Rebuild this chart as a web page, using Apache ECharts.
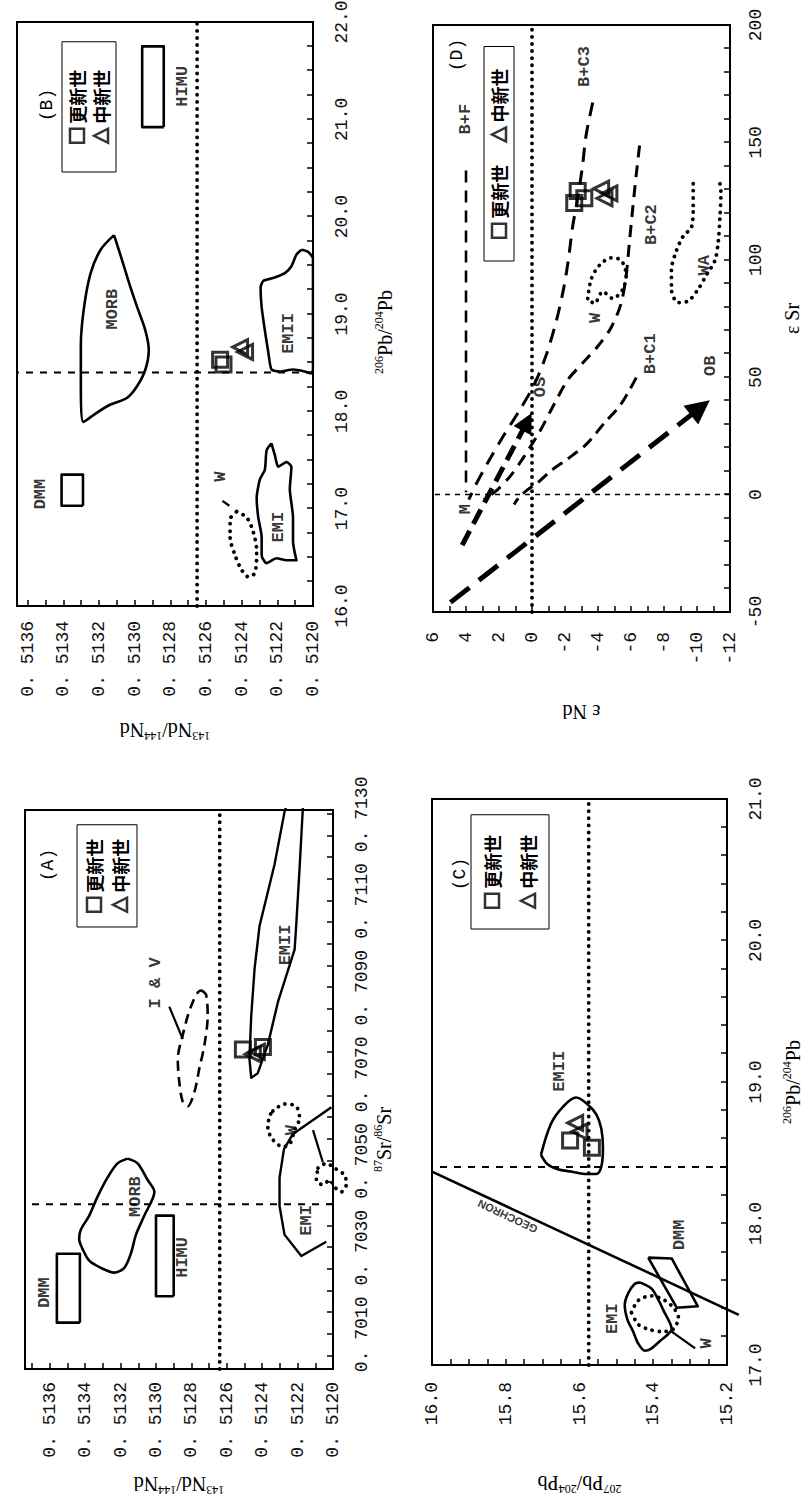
<!DOCTYPE html>
<html><head><meta charset="utf-8">
<script src="https://cdn.jsdelivr.net/npm/echarts@6/dist/echarts.min.js"></script>
<style>
html,body{margin:0;padding:0;background:#fff;overflow:hidden;width:809px;height:1500px;}
#wrap{position:absolute;left:0;top:0;width:1500px;height:809px;transform-origin:0 0;transform:translate(0,1500px) rotate(-90deg);}
#chart{width:1500px;height:809px;}
</style></head><body><div id="wrap"><div id="chart"></div></div>
<script>
// ---------- Panel A : 87Sr/86Sr (x) vs 143Nd/144Nd (y) ----------
const A_xLabels = [0.7010,0.7030,0.7050,0.7070,0.7090,0.7110,0.7130];
const A_yLabels = [0.5120,0.5122,0.5124,0.5126,0.5128,0.5130,0.5132,0.5134,0.5136];
const A_DMM = [0.70127,0.70286,0.51343,0.51356];
const A_HIMU = [0.70188,0.70374,0.51290,0.51300];
const A_MORB = [[0.705055,0.513160],[0.704945,0.513104],[0.704562,0.513047],[0.704288,0.513009],[0.703740,0.513066],[0.703301,0.513113],[0.702863,0.513142],[0.702534,0.513179],[0.702425,0.513236],[0.702534,0.513311],[0.702699,0.513377],[0.702973,0.513415],[0.703192,0.513434],[0.703411,0.513425],[0.703740,0.513377],[0.704178,0.513330],[0.704616,0.513274],[0.704945,0.513217]];
const A_IV = [[0.708945,0.512745],[0.708836,0.512717],[0.708342,0.512708],[0.707685,0.512726],[0.707137,0.512755],[0.706589,0.512783],[0.706260,0.512821],[0.706370,0.512849],[0.706808,0.512868],[0.707356,0.512877],[0.707904,0.512849],[0.708342,0.512821],[0.708671,0.512792],[0.708890,0.512764]];
const A_IVlead = [[0.707816,0.512849],[0.708562,0.512925]];
const A_EMII = [[0.713438,0.512245],[0.713055,0.512274],[0.711849,0.512330],[0.710425,0.512415],[0.709438,0.512443],[0.708342,0.512462],[0.707356,0.512472],[0.706918,0.512462],[0.707027,0.512425],[0.707466,0.512387],[0.707685,0.512368],[0.708671,0.512311],[0.709877,0.512217],[0.710425,0.512208],[0.711740,0.512189],[0.713164,0.512170],[0.713438,0.512164]];
const A_EMI = [[0.706238,0.512009],[0.705625,0.512226],[0.705274,0.512277],[0.704616,0.512302],[0.703959,0.512302],[0.703301,0.512274],[0.702808,0.512179],[0.703137,0.512038]];
const A_EMItick = [[0.705712,0.512113],[0.704967,0.512057]];
const A_W1 = [[0.706151,0.512340],[0.706315,0.512274],[0.706260,0.512208],[0.705986,0.512189],[0.705712,0.512217],[0.705384,0.512245],[0.705329,0.512283],[0.705493,0.512340],[0.705767,0.512368],[0.706041,0.512358]];
const A_W2 = [[0.704836,0.512085],[0.704945,0.512038],[0.704836,0.511991],[0.704671,0.511934],[0.704452,0.511925],[0.704288,0.511953],[0.704397,0.511991],[0.704562,0.512019],[0.704452,0.512057],[0.704562,0.512094]];
const A_pleist = [[0.707575,0.512509],[0.707630,0.512396]];
const A_mioc = [[0.707466,0.512453],[0.707520,0.512430]];
const A_ref = [0.7040, 0.51264];
const A_text = [['DMM',0.701964,0.513628],['HIMU',0.702775,0.512849],['MORB',0.704178,0.513113],['I & V',0.709110,0.513000],['EMII',0.709986,0.512270],['W',0.705712,0.512232],['EMI',0.703630,0.512147]];

// ---------- Panel B : 206Pb/204Pb (x) vs 143Nd/144Nd (y) ----------
const B_xLabels = [16,17,18,19,20,21,22];
const B_yLabels = [0.5120,0.5122,0.5124,0.5126,0.5128,0.5130,0.5132,0.5134,0.5136];
const B_DMM = [17.03,17.35,0.51329,0.51341];
const B_HIMU = [20.92,21.75,0.512837,0.512958];
const B_MORB = [[19.81,0.513116],[19.66,0.513191],[19.42,0.513247],[19.07,0.513284],[18.68,0.513302],[18.29,0.513302],[17.89,0.513288],[17.99,0.513209],[18.07,0.513135],[18.14,0.513042],[18.26,0.512986],[18.43,0.512940],[18.63,0.512921],[18.83,0.512940],[19.07,0.512986],[19.27,0.513023],[19.49,0.513060],[19.71,0.513098]];
const B_EMII = [[19.66,0.512065],[19.61,0.512093],[19.49,0.512121],[19.42,0.512158],[19.37,0.512223],[19.34,0.512279],[19.27,0.512294],[19.07,0.512288],[18.83,0.512270],[18.61,0.512251],[18.43,0.512233],[18.41,0.512186],[18.43,0.512112],[18.41,0.512047],[18.39,0.512009],[18.43,0.512000],[19.57,0.512000],[19.64,0.512028]];
const B_EMI = [[17.67,0.512233],[17.55,0.512214],[17.43,0.512195],[17.48,0.512149],[17.43,0.512121],[17.20,0.512130],[16.91,0.512112],[16.66,0.512112],[16.47,0.512093],[16.47,0.512149],[16.49,0.512205],[16.44,0.512260],[16.52,0.512288],[16.71,0.512288],[16.91,0.512307],[17.11,0.512316],[17.30,0.512298],[17.40,0.512270],[17.60,0.512260]];
const B_W = [[16.97,0.512428],[16.91,0.512372],[16.76,0.512335],[16.57,0.512316],[16.34,0.512326],[16.30,0.512363],[16.37,0.512400],[16.52,0.512437],[16.71,0.512465],[16.89,0.512465]];
const B_Wlead = [[17.08,0.512508],[17.03,0.512469]];
const B_pleist = [[18.53,0.512521],[18.48,0.512502]];
const B_mioc = [[18.66,0.512409],[18.61,0.512381]];
const B_ref = [18.4, 0.51265];
const B_text = [['DMM',17.15,0.513526],['HIMU',21.34,0.512730],['MORB',19.05,0.513126],['EMII',18.80,0.512140],['EMI',16.81,0.512195],['W',17.33,0.512517]];

// ---------- Panel C : 206Pb/204Pb (x) vs 207Pb/204Pb (y) ----------
const C_xLabels = [17,18,19,20,21];
const C_yLabels = [15.2,15.4,15.6,15.8,16.0];
const C_geochron = [[18.367,16.0],[17.354,15.168]];
const C_EMII = [[18.485,15.7045],[18.705,15.6773],[18.823,15.6455],[18.890,15.6091],[18.840,15.5773],[18.772,15.5545],[18.671,15.5409],[18.536,15.5364],[18.401,15.5409],[18.350,15.5545],[18.350,15.5864],[18.367,15.6227],[18.384,15.6591],[18.418,15.6864]];
const C_DMM = [[17.759,15.4136],[17.753,15.3500],[17.415,15.2791],[17.405,15.3364]];
const C_EMI = [[17.584,15.4364],[17.540,15.4045],[17.462,15.3864],[17.388,15.3727],[17.253,15.3500],[17.219,15.3591],[17.169,15.3818],[17.118,15.4045],[17.101,15.4227],[17.152,15.4409],[17.236,15.4545],[17.321,15.4700],[17.422,15.4773],[17.506,15.4682],[17.574,15.4500]];
const C_W = [[17.371,15.4591],[17.456,15.4409],[17.489,15.4045],[17.456,15.3682],[17.405,15.3455],[17.338,15.3318],[17.253,15.3455],[17.236,15.3773],[17.253,15.4136],[17.287,15.4409]];
const C_Wlead = [[17.236,15.35],[17.118,15.2864]];
const C_pleist = [[18.586,15.6255],[18.536,15.5664]];
const C_mioc = [[18.711,15.6118],[18.650,15.6000]];
const C_ref = [18.4, 15.575];
const C_text = [['EMII',19.076,15.6545],['DMM',17.92,15.33],['EMI',17.327,15.5118],['W',17.152,15.2545]];
const C_geoText = ['GEOCHRON',18.05,15.795];

// ---------- Panel D : εSr (x) vs εNd (y) ----------
const D_xLabels = [-50,0,50,100,150,200];
const D_yLabels = [-12,-10,-8,-6,-4,-2,0,2,4,6];
const D_BF = [[138,4.0],[1,4.0]];
const D_BC3 = [[167.0,-3.68],[152.7,-3.27],[140.5,-3.07],[126.2,-2.77],[114.0,-2.46],[99.8,-2.20],[87.5,-1.91],[73.3,-1.45],[59.0,-0.84],[46.8,-0.13],[35.6,0.78],[25.4,1.70],[13.2,2.71],[4.0,3.42],[-2.1,3.83]];
const D_BC2 = [[148.7,-6.52],[136.4,-6.32],[122.2,-6.11],[107.9,-5.91],[93.6,-5.71],[81.4,-5.40],[71.2,-4.80],[63.1,-3.98],[56.0,-3.07],[48.8,-2.16],[38.6,-1.35],[26.4,-0.43],[16.2,0.48],[8.1,1.29],[2.0,2.10],[-2.1,2.92]];
const D_BC1 = [[49.8,-6.32],[38.6,-5.40],[30.5,-4.39],[21.3,-3.27],[15.2,-2.16],[10.1,-1.14],[5.0,-0.33],[2.0,0.28],[-1.1,0.78],[-4.2,1.09]];
const D_OS = [[-21.5,4.23],[31,0.3]];
const D_OB = [[-45.9,4.94],[37,-10.2]];
const D_W = [[83.5,-3.38],[91.6,-3.58],[97.7,-4.09],[100.8,-4.80],[99.8,-5.40],[93.6,-5.71],[87.5,-5.51],[83.5,-4.90],[86.5,-4.29],[81.4,-3.78]];
const D_WA = [[132.4,-9.77],[122.2,-9.77],[114.0,-9.67],[110.0,-9.16],[103.8,-8.75],[95.7,-8.45],[87.5,-8.45],[81.8,-8.85],[82.4,-9.46],[87.5,-10.07],[93.6,-10.58],[99.8,-11.09],[107.9,-11.29],[118.1,-11.39],[128.3,-11.45],[132.4,-11.39]];
const D_pleist = [[129.3,-2.77],[126.2,-3.17],[124.2,-2.56]];
const D_mioc = [[130.3,-4.19],[126.2,-4.39],[128.3,-4.69]];
const D_ref = [0, 0];
const D_text = [['B+F',159.9,4.03],['B+C3',182.3,-3.21],['B+C2',115.0,-7.27],['B+C1',60.0,-7.17],['OB',54.9,-10.82],['OS',45.8,-0.53],['W',75.3,-3.82],['WA',97.7,-10.48],['M',-6.2,4.03]];

const N_PLEIST = '更新世', N_MIOC = '中新世';

// ---------- helpers ----------
function steps(a, b, s, dec){ const r=[]; const n=Math.round((b-a)/s); for(let i=0;i<=n;i++) r.push(+(a+i*s).toFixed(dec)); return r; }
const series = [];
const BLACK = '#000';
function poly(gi, pts, o){
  o = o || {};
  const d = pts.slice(); if (o.close) d.push(pts[0]);
  series.push({type:'line', xAxisIndex:gi, yAxisIndex:gi, data:d, symbol:'none', showSymbol:false,
    smooth:o.smooth||false, clip:o.clip!==false, silent:true, animation:false, z:3,
    lineStyle:{color:BLACK, width:o.width||2.6, type:o.dash||'solid', cap:o.cap||'butt', join:'round'}});
}
const DOT = {dash:[0.1,7], cap:'round', width:3.8};
function rect(gi, r, w){ poly(gi, [[r[0],r[2]],[r[1],r[2]],[r[1],r[3]],[r[0],r[3]]], {close:true, width:w||2.6}); }
function marks(gi, pts, sym, name){
  series.push({type:'scatter', name, xAxisIndex:gi, yAxisIndex:gi, data:pts, symbol:sym, symbolSize:15,
    itemStyle:{color:'rgba(0,0,0,0)', borderColor:BLACK, borderWidth:3}, z:5, animation:false, silent:true});
}
function texts(gi, arr, fs, extra){
  series.push({type:'scatter', xAxisIndex:gi, yAxisIndex:gi, symbol:'circle', symbolSize:2,
    itemStyle:{color:'rgba(0,0,0,0)', borderWidth:0}, clip:false, silent:true, z:6, animation:false,
    data:arr.map(a=>({name:a[0], value:[a[1],a[2]]})),
    label:Object.assign({show:true, position:'inside', formatter:'{b}', color:BLACK, fontFamily:'Liberation Mono', fontWeight:'bold', fontSize:fs||17}, extra||{})});
}
function refLines(gi, ref, xr, yr, vDash, hDash){
  poly(gi, [[ref[0],yr[0]],[ref[0],yr[1]]], vDash);
  poly(gi, [[xr[0],ref[1]],[xr[1],ref[1]]], hDash);
}

// ranges
const RA = {x:[0.7002,0.7131], y:[0.5120,0.51374]};
const RB = {x:[16,22], y:[0.5120,0.51366]};
const RC = {x:[17,21], y:[15.2,16.0]};
const RD = {x:[-50,200], y:[-12,6]};

// Panel A
refLines(0, A_ref, RA.x, RA.y, {dash:[7,7], width:2}, DOT);
rect(0, A_DMM); rect(0, A_HIMU);
poly(0, A_MORB, {close:true, smooth:0.3});
poly(0, A_IV, {close:true, smooth:0.3, dash:[10,6], width:2.6});
poly(0, A_IVlead, {width:2.2});
poly(0, A_EMII, {clip:false, width:2.4});
poly(0, A_EMI, {clip:false, width:2.4});
poly(0, A_EMItick, {width:2.2});
poly(0, A_W1, Object.assign({close:true, smooth:0.3}, DOT));
poly(0, A_W2, Object.assign({close:true, smooth:0.3, clip:false}, DOT));
marks(0, A_pleist, 'rect', N_PLEIST); marks(0, A_mioc, 'triangle', N_MIOC);
texts(0, A_text);

// Panel B
refLines(1, B_ref, RB.x, RB.y, {dash:[7,7], width:2}, DOT);
rect(1, B_DMM); rect(1, B_HIMU);
poly(1, B_MORB, {close:true, smooth:0.3});
poly(1, B_EMII, {close:true, smooth:0.2});
poly(1, B_EMI, {close:true, smooth:0.2});
poly(1, B_W, Object.assign({close:true, smooth:0.3}, DOT));
poly(1, B_Wlead, {width:2.2});
marks(1, B_pleist, 'rect', N_PLEIST); marks(1, B_mioc, 'triangle', N_MIOC);
texts(1, B_text);

// Panel C
refLines(2, C_ref, RC.x, RC.y, {dash:[7,7], width:2}, DOT);
poly(2, C_geochron, {clip:false, width:2.6});
poly(2, C_EMII, {close:true, smooth:0.35});
poly(2, C_DMM, {close:true});
poly(2, C_EMI, {close:true, smooth:0.3});
poly(2, C_W, Object.assign({close:true, smooth:0.3}, DOT));
poly(2, C_Wlead, {width:2.2});
marks(2, C_pleist, 'rect', N_PLEIST); marks(2, C_mioc, 'triangle', N_MIOC);
texts(2, C_text);
texts(2, [C_geoText], 11, {rotate:65, fontFamily:'Liberation Sans'});

// Panel D
refLines(3, D_ref, RD.x, RD.y, {dash:[5,5], width:1.5}, DOT);
poly(3, D_BF, {dash:[12,8], width:2.6});
poly(3, D_BC3, {dash:[14,9], width:3, smooth:0.3});
poly(3, D_BC2, {dash:[12,8], width:3, smooth:0.3});
poly(3, D_BC1, {dash:[12,7], width:3, smooth:0.3});
poly(3, D_W, Object.assign({close:true, smooth:0.3}, DOT));
poly(3, D_WA, Object.assign({smooth:0.3}, DOT));
[D_OS, D_OB].forEach((seg, i)=>{
  series.push({type:'lines', coordinateSystem:'cartesian2d', xAxisIndex:3, yAxisIndex:3, silent:true, animation:false, z:4,
    data:[{coords:seg}], symbol:['none','triangle'], symbolSize:[1, i===0?20:24],
    lineStyle:{color:BLACK, width:5, type:i===0?[16,8]:[24,12], opacity:1}});
});
marks(3, D_pleist, 'rect', N_PLEIST); marks(3, D_mioc, 'triangle', N_MIOC);
texts(3, D_text);

// ---------- axes ----------
const LABEL_FONT = 'Liberation Mono';
function fmtDec4(v){ return '0. ' + v.toFixed(4).slice(2); }
function fmt1(v){ return v.toFixed(1); }
function fmt0(v){ return String(Math.round(v)); }
function nameStyle(extra){
  return Object.assign({fontFamily:'Liberation Serif', fontSize:20, color:BLACK, lineHeight:24,
    rich:{s:{fontFamily:'Liberation Serif', fontSize:12, verticalAlign:'top', lineHeight:24, color:BLACK}}}, extra||{});
}
function axis(gi, dim, r, labels, ticks, fmt, margin, name, gap, nExtra){
  return {type:'value', gridIndex:gi, min:r[0], max:r[1], position: dim==='x'?'bottom':'left',
    axisLine:{show:true, onZero:false, lineStyle:{color:BLACK, width:2}},
    axisTick:{show:true, inside:true, length:6, customValues:ticks, lineStyle:{color:BLACK, width:1.5}},
    splitLine:{show:false}, minorTick:{show:false},
    axisLabel:{show:true, customValues:labels, formatter:fmt, margin, color:'#111', fontFamily:LABEL_FONT, fontSize:18, showMinLabel:true, showMaxLabel:true},
    name, nameLocation:'middle', nameGap:gap, nameRotate: dim==='y'?90:0, nameTextStyle:nameStyle(nExtra)};
}
const xAxis = [
  axis(0,'x',RA.x, A_xLabels, steps(0.7005,0.7130,0.0005,4), fmtDec4, 20, '{s|87}Sr/{s|86}Sr', 36, {padding:[0,100,0,0]}),
  axis(1,'x',RB.x, B_xLabels, steps(16.25,21.75,0.25,2), fmt1, 20, '{s|206}Pb/{s|204}Pb', 60, {padding:[0,36,0,0]}),
  axis(2,'x',RC.x, C_xLabels, steps(17.2,20.8,0.2,1), fmt1, 20, '{s|206}Pb/{s|204}Pb', 54),
  axis(3,'x',RD.x, D_xLabels, steps(-40,190,10,0), fmt0, 17, 'ε Sr', 50)
];
const yAxis = [
  axis(0,'y',RA.y, A_yLabels, steps(0.5121,0.5137,0.0001,4), fmtDec4, 13, '{s|143}Nd/{s|144}Nd', 103),
  axis(1,'y',RB.y, B_yLabels, steps(0.5121,0.5136,0.0001,4), fmtDec4, 15, '{s|143}Nd/{s|144}Nd', 112),
  axis(2,'y',RC.y, C_yLabels, steps(15.25,15.95,0.05,2), fmt1, 17, '{s|207}Pb/{s|204}Pb', 106),
  axis(3,'y',RD.y, D_yLabels, steps(-11,5,1,0), fmt0, 20, 'ε Nd', 88)
];

// ---------- legends ----------
function legend(left, top, orient, pad, gap){
  return {show:true, left, top, orient, padding:pad, itemGap:gap, itemWidth:14, itemHeight:14,
    borderColor:BLACK, borderWidth:1, backgroundColor:'#fff', selectedMode:false,
    data:[{name:N_PLEIST, icon:'rect'},{name:N_MIOC, icon:'triangle'}],
    itemStyle:{color:'rgba(0,0,0,0)', borderColor:BLACK, borderWidth:2.5},
    textStyle:{fontFamily:'Noto Sans CJK SC', fontSize:18, fontWeight:'bold', color:BLACK}};
}
const legends = [
  legend(573, 77, 'vertical', [8,14,8,14], 8),
  legend(1328, 62, 'vertical', [6,28,6,28], 6),
  legend(571, 471, 'vertical', [12,20,12,20], 18),
  legend(1239, 484, 'horizontal', [6,22,6,22], 22)
];

function tag(t, x, y){ return {type:'text', x, y, z:10, style:{text:t, align:'center', verticalAlign:'middle', fontSize:18, fontFamily:'Liberation Mono', fill:BLACK}}; }

const gridBase = {show:true, borderColor:BLACK, borderWidth:2, backgroundColor:'rgba(0,0,0,0)', containLabel:false, outerBoundsMode:'none'};
const option = {
  animation:false, backgroundColor:'#fff',
  grid:[
    Object.assign({left:131, top:25, width:559, height:308}, gridBase),
    Object.assign({left:894, top:17, width:584, height:296}, gridBase),
    Object.assign({left:135, top:432, width:566, height:295}, gridBase),
    Object.assign({left:888, top:433, width:587, height:297}, gridBase)
  ],
  xAxis, yAxis, legend:legends,
  graphic:[tag('(A)',635,48), tag('(B)',1395,47), tag('(C)',626,460), tag('(D)',1445,457)],
  series
};
const chart = echarts.init(document.getElementById('chart'), null, {renderer:'svg', width:1500, height:809});
chart.setOption(option);
</script></body></html>
